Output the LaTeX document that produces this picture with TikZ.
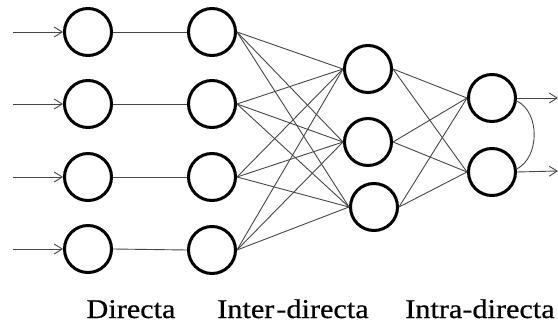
\documentclass[tikz,border=0pt]{standalone}
\usepackage{fontspec}
\setmainfont{Liberation Serif}[FakeStretch=1.12,FakeBold=0.6]
\usetikzlibrary{arrows.meta}
\begin{document}
\begin{tikzpicture}[x=1pt,y=-1pt,
  neuron/.style={circle,draw=black,line width=3pt,minimum size=47pt,inner sep=0pt},
  link/.style={draw=black!72,line width=0.9pt},
  arr/.style={link,-{Straight Barb[length=8pt,width=10pt]}},
  lab/.style={anchor=base,font=\fontsize{27}{30}\selectfont,inner sep=0pt}]
\useasboundingbox (0,0) rectangle (558,324);
% layer 1
\node[neuron] (a1) at (88,32) {};
\node[neuron] (a2) at (88,104) {};
\node[neuron] (a3) at (88,177) {};
\node[neuron] (a4) at (88,249) {};
% layer 2
\node[neuron] (b1) at (212,32) {};
\node[neuron] (b2) at (212,104) {};
\node[neuron] (b3) at (212,177) {};
\node[neuron] (b4) at (212,250) {};
% layer 3
\node[neuron] (c1) at (368,69) {};
\node[neuron] (c2) at (368,142) {};
\node[neuron] (c3) at (374,207) {};
% layer 4
\node[neuron] (d1) at (492,98) {};
\node[neuron] (d2) at (492,172) {};
% input ends
\coordinate (i1) at (13,32);
\coordinate (i2) at (13,104);
\coordinate (i3) at (13,177);
\coordinate (i4) at (13,249);
% output ends
\coordinate (o1) at (558,98);
\coordinate (o2) at (558,171);
\foreach \k in {1,2,3,4}{
  \draw[arr] (i\k) -- (a\k.west);
  \draw[link] (a\k.east) -- (b\k.west);
  \foreach \j in {1,2,3}{
    \draw[link] (b\k.east) -- (c\j.west);
  }
}
\foreach \k in {1,2,3}{
  \foreach \j in {1,2}{
    \draw[link] (c\k.east) -- (d\j.west);
  }
}
\draw[arr] (d1.east) -- (o1);
\draw[arr] (d2.east) -- (o2);
\draw[link] (d1.-7) .. controls (540,112) and (540,157) .. (d2.7);
% labels
\node[lab] (t1) at (131,318) {Directa};
\node[lab] (t2) at (293,318) {Inter\kern2pt-directa};
\node[lab] (t3) at (480,318) {Intra-directa};
\end{tikzpicture}
\end{document}
